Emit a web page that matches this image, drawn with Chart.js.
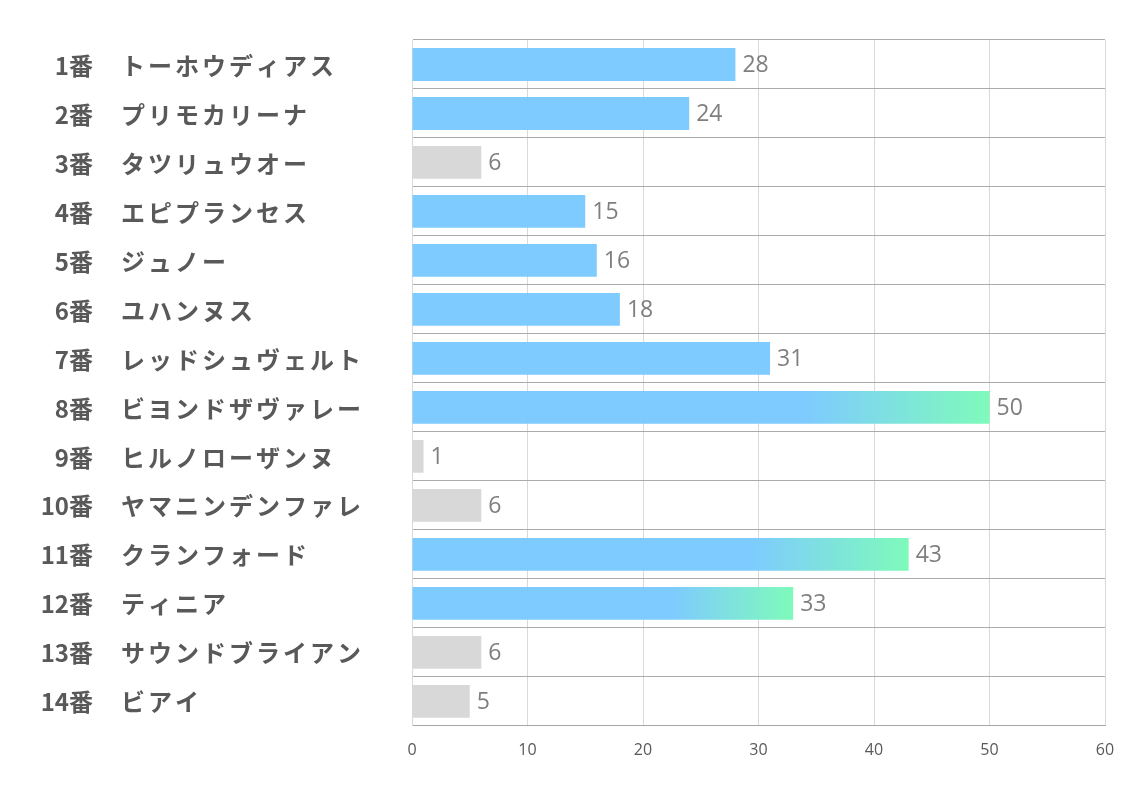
<!DOCTYPE html>
<html>
<head>
<meta charset="utf-8">
<script src="https://cdn.jsdelivr.net/npm/chart.js@4/dist/chart.umd.min.js"></script>
<style>
  html, body { margin: 0; padding: 0; background: #fff; }
  #wrap { width: 1134px; height: 793px; }
</style>
</head>
<body>
<div id="wrap"><canvas id="myChart" width="1134" height="793"></canvas></div>
<script>
const numbers = ['1番', '2番', '3番', '4番', '5番', '6番', '7番', '8番', '9番', '10番', '11番', '12番', '13番', '14番'];
const horses = [
  'トーホウディアス',
  'プリモカリーナ',
  'タツリュウオー',
  'エピプランセス',
  'ジュノー',
  'ユハンヌス',
  'レッドシュヴェルト',
  'ビヨンドザヴァレー',
  'ヒルノローザンヌ',
  'ヤマニンデンファレ',
  'クランフォード',
  'ティニア',
  'サウンドブライアン',
  'ビアイ',
];
const votes = [28, 24, 6, 15, 16, 18, 31, 50, 1, 6, 43, 33, 6, 5];
const xTicks = [0, 10, 20, 30, 40, 50, 60];

const BLUE = 'rgba(122, 201, 255, 0.97)';
const GREEN = 'rgba(122, 250, 185, 0.97)';
const GRAY = 'rgba(216, 216, 216, 1)';

// top 3 get the gradient, small ones are gray
const top3 = votes.slice().sort((a, b) => b - a).slice(0, 3);

function barColor(ctx) {
  const v = votes[ctx.dataIndex];
  if (v < 10) return GRAY;
  if (top3.indexOf(v) === -1) return BLUE;
  const chart = ctx.chart;
  const xs = chart.scales.x;
  if (!chart.chartArea || !xs) return BLUE;
  const x0 = xs.getPixelForValue(0);
  const x1 = xs.getPixelForValue(v);
  const g = chart.ctx.createLinearGradient(x0, 0, x1, 0);
  g.addColorStop(0, BLUE);
  g.addColorStop(0.68, BLUE);
  g.addColorStop(1, GREEN);
  return g;
}

const labelPlugin = {
  id: 'labels',
  afterDatasetsDraw(chart) {
    const ctx = chart.ctx;
    const ys = chart.scales.y;
    const xs = chart.scales.x;
    ctx.save();
    ctx.textBaseline = 'middle';
    ctx.fillStyle = '#595959';
    ctx.font = 'bold 24px "Noto Sans CJK JP"';
    for (let i = 0; i < numbers.length; i++) {
      const y = ys.getPixelForValue(i) + 1;
      ctx.letterSpacing = '0px';
      ctx.textAlign = 'right';
      ctx.fillText(numbers[i], 93, y);
      ctx.letterSpacing = '3px';
      ctx.textAlign = 'left';
      ctx.fillText(horses[i], 121, y);
    }
    ctx.letterSpacing = '0px';
    ctx.fillStyle = '#7f7f7f';
    ctx.font = '23px "Open Sans"';
    ctx.textAlign = 'left';
    for (let i = 0; i < votes.length; i++) {
      const y = ys.getPixelForValue(i);
      const x = xs.getPixelForValue(votes[i]);
      ctx.fillText(String(votes[i]), x + 7, y + 1);
    }
    ctx.restore();
  },
};

new Chart(document.getElementById('myChart').getContext('2d'), {
  type: 'bar',
  data: {
    labels: numbers,
    datasets: [
      {
        data: votes,
        backgroundColor: barColor,
        borderWidth: 0,
        categoryPercentage: 1,
        barPercentage: 0.67,
      },
    ],
  },
  options: {
    indexAxis: 'y',
    responsive: false,
    animation: false,
    devicePixelRatio: 1,
    layout: { padding: { top: 40, right: 29, bottom: 18, left: 0 } },
    plugins: { legend: { display: false }, tooltip: { enabled: false } },
    scales: {
      x: {
        min: 0,
        max: 60,
        afterBuildTicks(scale) {
          scale.ticks = xTicks.map((v) => ({ value: v }));
        },
        grid: { color: '#d9d9d9', drawTicks: false, lineWidth: 1 },
        border: { display: true, color: '#a6a6a6', width: 1 },
        ticks: {
          padding: 15,
          color: '#595959',
          font: { family: "'Liberation Sans Narrow', 'Open Sans'", size: 16 },
        },
      },
      y: {
        grid: { color: '#ababab', drawTicks: false, offset: true },
        border: { display: true, color: '#d9d9d9' },
        ticks: { display: false },
        afterFit(scale) {
          scale.width = 412;
        },
      },
    },
  },
  plugins: [labelPlugin],
});
</script>
</body>
</html>
